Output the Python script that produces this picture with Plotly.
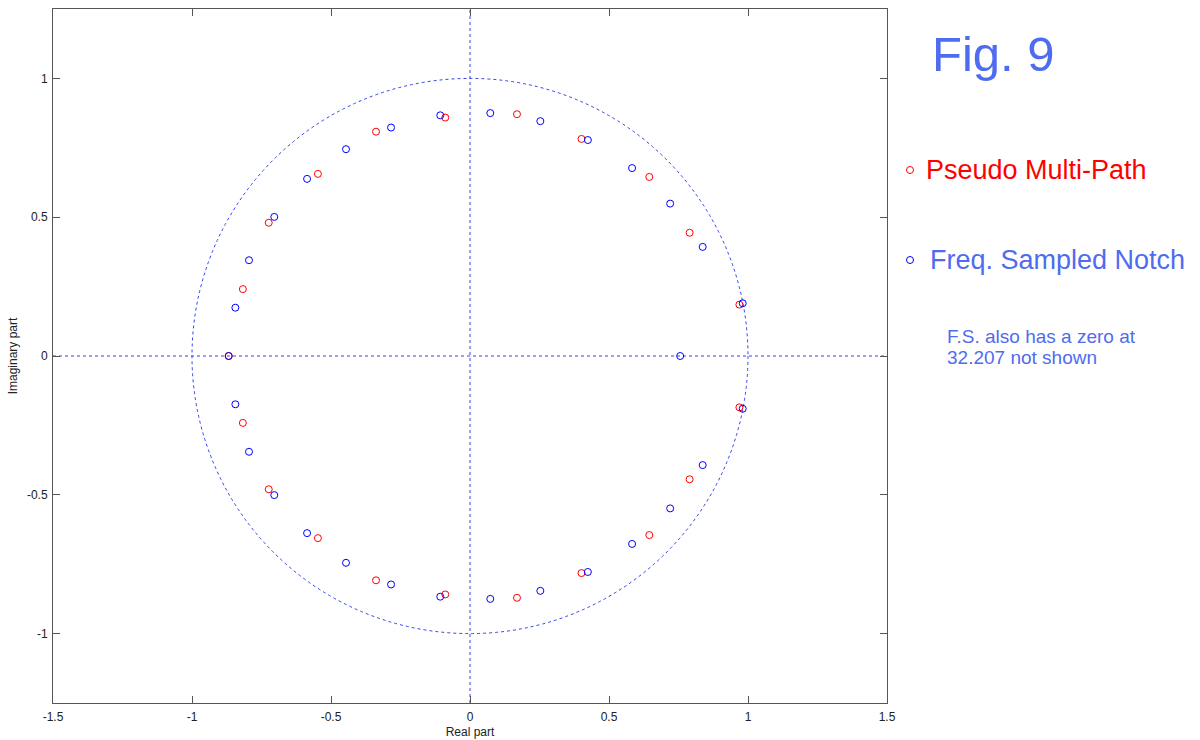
import plotly.graph_objects as go

# Zeros of the two filters (real and imaginary parts), listed around the circle
pmp_re = [-0.089, -0.338, -0.547, -0.724, -0.817, -0.868, -0.817, -0.724, -0.547, -0.338, -0.089,
          0.169, 0.401, 0.645, 0.790, 0.969, 0.969, 0.790, 0.645, 0.401, 0.169]
pmp_im = [0.859, 0.808, 0.656, 0.480, 0.241, 0.000, -0.241, -0.480, -0.656, -0.808, -0.859,
          -0.871, -0.782, -0.645, -0.444, -0.185, 0.185, 0.444, 0.645, 0.782, 0.871]

fsn_re = [-0.107, -0.284, -0.446, -0.586, -0.704, -0.795, -0.844, -0.868, -0.844, -0.795, -0.704,
          -0.586, -0.446, -0.284, -0.107, 0.073, 0.253, 0.424, 0.583, 0.720, 0.837, 0.981,
          0.981, 0.837, 0.720, 0.583, 0.424, 0.253, 0.073, 0.756]
fsn_im = [0.867, 0.823, 0.745, 0.638, 0.501, 0.345, 0.174, 0.000, -0.174, -0.345, -0.501,
          -0.638, -0.745, -0.823, -0.867, -0.875, -0.846, -0.778, -0.677, -0.549, -0.393, -0.190,
          0.190, 0.393, 0.549, 0.677, 0.778, 0.846, 0.875, 0.000]

x_ticks = [-1.5, -1, -0.5, 0, 0.5, 1, 1.5]
x_tick_text = ["-1.5", "-1", "-0.5", "0", "0.5", "1", "1.5"]
y_ticks = [-1, -0.5, 0, 0.5, 1]
y_tick_text = ["-1", "-0.5", "0", "0.5", "1"]

unit_radius = 1.0

RED = "#ff0000"
BLUE = "#0000ff"
TEXT_BLUE = "#4f6cf0"
FRAME = "#555555"
FONT = "Liberation Sans, Arial, sans-serif"

fig = go.Figure()

fig.add_trace(go.Scatter(
    x=pmp_re, y=pmp_im, mode="markers", name="Pseudo Multi-Path",
    marker=dict(symbol="circle-open", size=7, color=RED, line=dict(width=1, color=RED)),
    showlegend=False,
))
fig.add_trace(go.Scatter(
    x=fsn_re, y=fsn_im, mode="markers", name="Freq. Sampled Notch",
    marker=dict(symbol="circle-open", size=7, color=BLUE, line=dict(width=1, color=BLUE)),
    showlegend=False,
))

dot = dict(color="#3344ee", width=1, dash="3px,3px")
shapes = [
    # unit circle
    dict(type="circle", xref="x", yref="y", x0=-unit_radius, y0=-unit_radius,
         x1=unit_radius, y1=unit_radius, line=dot, layer="below"),
    # real and imaginary axes
    dict(type="line", xref="x", yref="y domain", x0=0, x1=0, y0=0, y1=1, line=dot, layer="below"),
    dict(type="line", xref="x domain", yref="y", x0=0, x1=1, y0=0, y1=0, line=dot, layer="below"),
]

W, H = 1200, 740
L, R, T, B = 53, 887, 9, 703


def px_x(x):
    return (x - L) / (R - L)


def px_y(y):
    return (B - y) / (B - T)


# legend markers drawn beside the plot
for cy, col in [(170, RED), (260, BLUE)]:
    shapes.append(dict(type="circle", xref="paper", yref="paper",
                       xsizemode="pixel", ysizemode="pixel",
                       xanchor=px_x(910), yanchor=px_y(cy),
                       x0=-3.5, x1=3.5, y0=-3.5, y1=3.5,
                       line=dict(color=col, width=1)))

annotations = [
    dict(text="Fig. 9", x=px_x(930), y=px_y(54), xref="paper", yref="paper",
         xanchor="left", yanchor="middle", showarrow=False,
         font=dict(family=FONT, size=49, color=TEXT_BLUE)),
    dict(text="Pseudo Multi-Path", x=px_x(924), y=px_y(170), xref="paper", yref="paper",
         xanchor="left", yanchor="middle", showarrow=False,
         font=dict(family=FONT, size=27, color=RED)),
    dict(text="Freq. Sampled Notch", x=px_x(928), y=px_y(260), xref="paper", yref="paper",
         xanchor="left", yanchor="middle", showarrow=False,
         font=dict(family=FONT, size=27, color=TEXT_BLUE)),
    dict(text="F.S. also has a zero at", x=px_x(945), y=px_y(336),
         xref="paper", yref="paper", xanchor="left", yanchor="middle",
         showarrow=False, font=dict(family=FONT, size=19, color=TEXT_BLUE)),
    dict(text="32.207 not shown", x=px_x(945), y=px_y(357),
         xref="paper", yref="paper", xanchor="left", yanchor="middle",
         showarrow=False, font=dict(family=FONT, size=19, color=TEXT_BLUE)),
]

axis_common = dict(
    showgrid=False, zeroline=False, showline=True, linecolor=FRAME, linewidth=1,
    mirror="allticks", ticks="inside", ticklen=7, tickcolor=FRAME, tickwidth=1,
    tickfont=dict(family=FONT, size=12, color="#222222"), automargin=False,
)

fig.update_layout(
    width=W, height=H, autosize=False,
    margin=dict(l=L, r=W - R, t=T, b=H - B),
    paper_bgcolor="white", plot_bgcolor="white",
    xaxis=dict(range=[-1.5, 1.5], tickvals=x_ticks, ticktext=x_tick_text,
               ticklabelstandoff=3,
               title=dict(text="Real part", font=dict(family=FONT, size=12, color="#222222"),
                          standoff=4),
               **axis_common),
    yaxis=dict(range=[-1.25, 1.25], tickvals=y_ticks, ticktext=y_tick_text,
               ticklabelstandoff=2,
               title=dict(text="Imaginary part", font=dict(family=FONT, size=12, color="#222222"),
                          standoff=6),
               **axis_common),
    shapes=shapes,
    annotations=annotations,
)

fig.write_html("out.html")
